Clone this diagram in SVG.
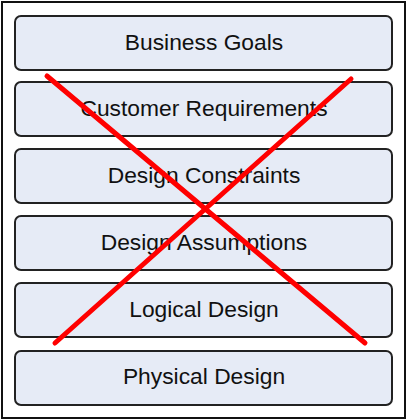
<svg xmlns="http://www.w3.org/2000/svg" width="407" height="420" viewBox="0 0 407 420">
<style>
.box{fill:#e6ebf6;stroke:#222;stroke-width:2}
.lbl{font-family:"Liberation Sans",Arial,sans-serif;font-size:22.8px;fill:#111;text-anchor:middle}
.x{stroke:#f00;stroke-width:5;stroke-linecap:round}
</style>
<rect x="0" y="0" width="407" height="420" fill="#fff"/>
<rect x="2" y="2" width="403" height="416" fill="#fff" stroke="#111" stroke-width="2"/>
<g id="n1"><rect class="box" x="15" y="16" width="377" height="54" rx="6"/><text class="lbl" x="204" y="50">Business Goals</text></g>
<g id="n2"><rect class="box" x="15" y="82" width="377" height="54" rx="6"/><text class="lbl" x="204" y="116">Customer Requirements</text></g>
<g id="n3"><rect class="box" x="15" y="149" width="377" height="54" rx="6"/><text class="lbl" x="204" y="183">Design Constraints</text></g>
<g id="n4"><rect class="box" x="15" y="216" width="377" height="54" rx="6"/><text class="lbl" x="204" y="250">Design Assumptions</text></g>
<g id="n5"><rect class="box" x="15" y="283" width="377" height="54" rx="6"/><text class="lbl" x="204" y="317">Logical Design</text></g>
<g id="n6"><rect class="box" x="15" y="351" width="377" height="54" rx="6"/><text class="lbl" x="204" y="384">Physical Design</text></g>
<g id="connectors">
<line class="x" x1="47" y1="76" x2="365" y2="343"/>
<line class="x" x1="55" y1="343" x2="351" y2="79"/>
</g>
</svg>
